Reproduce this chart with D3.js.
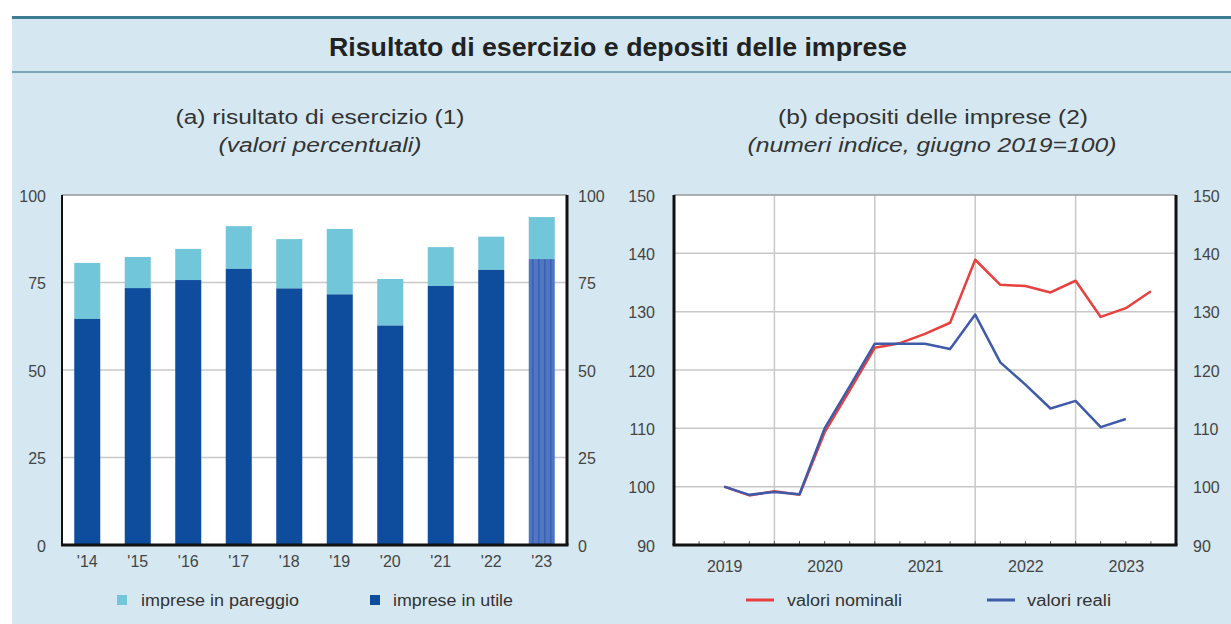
<!DOCTYPE html>
<html><head><meta charset="utf-8">
<script src="https://cdn.jsdelivr.net/npm/d3@7/dist/d3.min.js"></script>
<style>body{margin:0;background:#fff}svg{display:block;font-family:"Liberation Sans",Arial,sans-serif}</style>
</head><body><svg id="c" width="1231" height="624"></svg>
<script>
// ---- data: panel (a) risultato di esercizio (percent)
const years = ["'14","'15","'16","'17","'18","'19","'20","'21","'22","'23"];
const impreseUtile    = [64.6, 73.4, 75.7, 78.9, 73.3, 71.6, 62.7, 74.0, 78.6, 81.7];
const imprese_Pareggio = [16.0,  8.9,  8.9, 12.2, 14.1, 18.7, 13.3, 11.1,  9.5, 12.0];
const yTicksA = [0, 25, 50, 75, 100];

// ---- data: panel (b) depositi delle imprese (index, June 2019 = 100), quarterly
const periods = [2019.5, 2019.75, 2020.0, 2020.25, 2020.5, 2020.75, 2021.0, 2021.25, 2021.5, 2021.75,
                 2022.0, 2022.25, 2022.5, 2022.75, 2023.0, 2023.25, 2023.5, 2023.75];
const valoriNominali = [100, 98.5, 99.2, 98.6, 109.3, 116.5, 123.8, 124.6, 126.2, 128.1,
                        138.9, 134.6, 134.4, 133.3, 135.3, 129.1, 130.6, 133.5];
const valoriReali    = [100, 98.6, 99.1, 98.7, 110.0, 117.2, 124.5, 124.5, 124.5, 123.6,
                        129.5, 121.3, 117.5, 113.4, 114.7, 110.2, 111.6];
const yTicksB = [90, 100, 110, 120, 130, 140, 150];
const yearLabels = [2019, 2020, 2021, 2022, 2023];
const yearGrid = [2020, 2021, 2022, 2023];
const quarterTicks = d3.range(2019.25, 2024, 0.25);

// ---- texts
const title = "Risultato di esercizio e depositi delle imprese";
const subA = ["(a) risultato di esercizio (1)", "(valori percentuali)"];
const subB = ["(b) depositi delle imprese (2)", "(numeri indice, giugno 2019=100)"];
const legendA = ["imprese in pareggio", "imprese in utile"];
const legendB = ["valori nominali", "valori reali"];

// ---- styles
const C = {
  bg: "#d5e8f2", dark: "#0e4c9e", light: "#71c6da", last: "#4e76c3", lastStripe: "#3a60b0",
  red: "#e8403f", blue: "#3e5aa8", grid: "#c8c8c8", text: "#333", axis: "#111"
};

const svg = d3.select("#c");
function txt(x, y, s, size, opts = {}) {
  const t = svg.append("text").attr("x", x).attr("y", y).attr("font-size", size)
    .attr("fill", opts.fill || C.text).attr("text-anchor", opts.anchor || "start").text(s);
  if (opts.bold) t.attr("font-weight", "bold");
  if (opts.italic) t.attr("font-style", "italic");
  if (opts.len) t.attr("textLength", opts.len).attr("lengthAdjust", "spacingAndGlyphs");
  return t;
}

svg.append("rect").attr("x", 12).attr("y", 17).attr("width", 1219).attr("height", 607).attr("fill", C.bg);
svg.append("line").attr("x1", 12).attr("x2", 1231).attr("y1", 17.5).attr("y2", 17.5).attr("stroke", "#3d7c92").attr("stroke-width", 3);
svg.append("line").attr("x1", 12).attr("x2", 1231).attr("y1", 72).attr("y2", 72).attr("stroke", "#78a6b6").attr("stroke-width", 2);
txt(618, 56, title, 25, {anchor: "middle", bold: true, fill: "#222", len: 578});

txt(320, 124, subA[0], 20, {anchor: "middle", len: 289});
txt(320, 152, subA[1], 20, {anchor: "middle", italic: true, len: 203});
txt(933, 124, subB[0], 20, {anchor: "middle", len: 310});
txt(932, 152, subB[1], 20, {anchor: "middle", italic: true, len: 369});

const defs = svg.append("defs");
const pat = defs.append("pattern").attr("id", "stripes").attr("patternUnits", "userSpaceOnUse")
  .attr("width", 6).attr("height", 10);
pat.append("rect").attr("width", 6).attr("height", 10).attr("fill", C.last);
pat.append("rect").attr("x", 4).attr("width", 1.5).attr("height", 10).attr("fill", C.lastStripe);

// ================= Panel (a)
const A = {l: 62, r: 567, t: 195, b: 545};
const xA = d3.scaleBand().domain(years).range([A.l, A.r]).paddingInner(0.485).paddingOuter(0.2425);
const yA = d3.scaleLinear().domain([0, 100]).range([A.b, A.t]);
const gA = svg.append("g");
gA.append("rect").attr("x", A.l).attr("y", A.t).attr("width", A.r - A.l).attr("height", A.b - A.t).attr("fill", "#fff");
gA.append("g").selectAll("line").data(yTicksA.filter(d => d > 0 && d < 100)).join("line")
  .attr("x1", A.l).attr("x2", A.r).attr("y1", d => yA(d)).attr("y2", d => yA(d))
  .attr("stroke", C.grid).attr("stroke-width", 1.5);
const barsA = years.map((y, i) => ({y, u: impreseUtile[i], p: imprese_Pareggio[i], last: i === years.length - 1}));
gA.append("g").selectAll("rect").data(barsA).join("rect")
  .attr("x", d => xA(d.y)).attr("width", xA.bandwidth())
  .attr("y", d => yA(d.u + d.p)).attr("height", d => yA(d.u) - yA(d.u + d.p)).attr("fill", C.light);
gA.append("g").selectAll("rect").data(barsA).join("rect")
  .attr("x", d => xA(d.y)).attr("width", xA.bandwidth())
  .attr("y", d => yA(d.u)).attr("height", d => yA(0) - yA(d.u))
  .attr("fill", d => d.last ? "url(#stripes)" : C.dark);
// frame
gA.append("line").attr("x1", A.l).attr("x2", A.r).attr("y1", A.t).attr("y2", A.t).attr("stroke", "#999").attr("stroke-width", 1.5);
gA.append("line").attr("x1", A.l).attr("x2", A.l).attr("y1", A.t).attr("y2", A.b).attr("stroke", C.axis).attr("stroke-width", 2);
gA.append("line").attr("x1", A.r).attr("x2", A.r).attr("y1", A.t).attr("y2", A.b).attr("stroke", C.axis).attr("stroke-width", 3);
gA.append("line").attr("x1", A.l - 1).attr("x2", A.r + 1.5).attr("y1", A.b).attr("y2", A.b).attr("stroke", C.axis).attr("stroke-width", 3);

function styleAxis(g, size) {
  g.select(".domain").remove();
  g.selectAll(".tick line").remove();
  g.selectAll("text").attr("fill", "#444").attr("font-size", size).attr("font-family", '"Liberation Sans",Arial,sans-serif');
}
svg.append("g").attr("transform", `translate(${A.l - 16},6)`)
  .call(d3.axisLeft(yA).tickValues(yTicksA).tickSize(0).tickPadding(0)).call(g => { styleAxis(g, 16); g.selectAll("text").attr("dy", null); });
svg.append("g").attr("transform", `translate(${A.r + 11},6)`)
  .call(d3.axisRight(yA).tickValues(yTicksA).tickSize(0).tickPadding(0)).call(g => { styleAxis(g, 16); g.selectAll("text").attr("dy", null); });
svg.append("g").attr("transform", `translate(0,${A.b + 22})`)
  .call(d3.axisBottom(xA).tickSize(0).tickPadding(0)).call(g => { styleAxis(g, 16); g.selectAll("text").attr("dy", null); });

// legend (a)
svg.append("rect").attr("x", 117).attr("y", 595).attr("width", 10).attr("height", 10).attr("fill", C.light);
txt(141, 606, legendA[0], 16, {len: 158});
svg.append("rect").attr("x", 370).attr("y", 595).attr("width", 10).attr("height", 10).attr("fill", C.dark);
txt(393, 606, legendA[1], 16, {len: 120});

// ================= Panel (b)
const B = {l: 674, r: 1176, t: 195, b: 545};
const xB = d3.scaleLinear().domain([2019, 2024]).range([B.l, B.r]);
const yB = d3.scaleLinear().domain([90, 150]).range([B.b, B.t]);
const gB = svg.append("g");
gB.append("rect").attr("x", B.l).attr("y", B.t).attr("width", B.r - B.l).attr("height", B.b - B.t).attr("fill", "#fff");
gB.append("g").selectAll("line").data(yTicksB.filter(d => d > 90 && d < 150)).join("line")
  .attr("x1", B.l).attr("x2", B.r).attr("y1", d => yB(d)).attr("y2", d => yB(d))
  .attr("stroke", C.grid).attr("stroke-width", 1.5);
gB.append("g").selectAll("line").data(yearGrid).join("line")
  .attr("x1", d => xB(d)).attr("x2", d => xB(d)).attr("y1", B.t).attr("y2", B.b)
  .attr("stroke", C.grid).attr("stroke-width", 1.5);
gB.append("g").selectAll("line").data(quarterTicks).join("line")
  .attr("x1", d => xB(d)).attr("x2", d => xB(d)).attr("y1", B.b - 4).attr("y2", B.b)
  .attr("stroke", "#666").attr("stroke-width", 1);
const line = d3.line().x(d => xB(d[0])).y(d => yB(d[1]));
gB.append("path").datum(periods.slice(0, valoriNominali.length).map((p, i) => [p, valoriNominali[i]]))
  .attr("d", line).attr("fill", "none").attr("stroke", C.red).attr("stroke-width", 2.5).attr("stroke-linejoin", "round");
gB.append("path").datum(periods.slice(0, valoriReali.length).map((p, i) => [p, valoriReali[i]]))
  .attr("d", line).attr("fill", "none").attr("stroke", C.blue).attr("stroke-width", 2.5).attr("stroke-linejoin", "round");
gB.append("line").attr("x1", B.l).attr("x2", B.r).attr("y1", B.t).attr("y2", B.t).attr("stroke", "#999").attr("stroke-width", 1.5);
gB.append("line").attr("x1", B.l).attr("x2", B.l).attr("y1", B.t).attr("y2", B.b).attr("stroke", C.axis).attr("stroke-width", 3);
gB.append("line").attr("x1", B.r).attr("x2", B.r).attr("y1", B.t).attr("y2", B.b).attr("stroke", C.axis).attr("stroke-width", 3);
gB.append("line").attr("x1", B.l - 1.5).attr("x2", B.r + 1.5).attr("y1", B.b).attr("y2", B.b).attr("stroke", C.axis).attr("stroke-width", 3);

svg.append("g").attr("transform", `translate(${B.l - 19},6)`)
  .call(d3.axisLeft(yB).tickValues(yTicksB).tickSize(0).tickPadding(0)).call(g => { styleAxis(g, 16); g.selectAll("text").attr("dy", null); });
svg.append("g").attr("transform", `translate(${B.r + 17},6)`)
  .call(d3.axisRight(yB).tickValues(yTicksB).tickSize(0).tickPadding(0)).call(g => { styleAxis(g, 16); g.selectAll("text").attr("dy", null); });
svg.append("g").attr("transform", `translate(0,${B.b + 27})`)
  .call(d3.axisBottom(xB).tickValues(yearLabels.map(y => y + 0.5)).tickFormat((d, i) => yearLabels[i]).tickSize(0).tickPadding(0))
  .call(g => { styleAxis(g, 16); g.selectAll("text").attr("dy", null); });

// legend (b)
svg.append("line").attr("x1", 746).attr("x2", 774).attr("y1", 600).attr("y2", 600).attr("stroke", C.red).attr("stroke-width", 3);
txt(787, 606, legendB[0], 16, {len: 115});
svg.append("line").attr("x1", 987).attr("x2", 1015).attr("y1", 600).attr("y2", 600).attr("stroke", C.blue).attr("stroke-width", 3);
txt(1027, 606, legendB[1], 16, {len: 84});
</script>
</body></html>
